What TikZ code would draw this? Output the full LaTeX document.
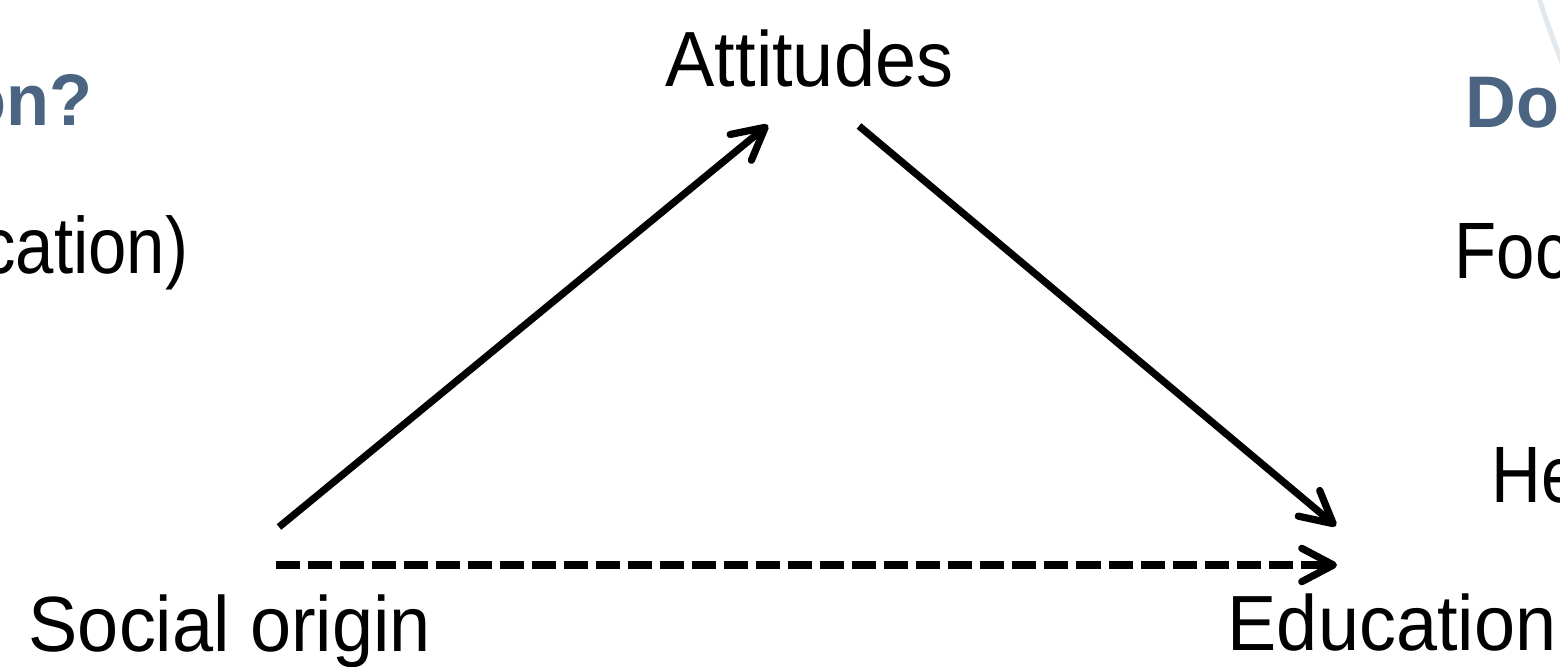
\documentclass[tikz,border=0pt]{standalone}
\usepackage{graphicx}
\usepackage{fontspec}
\setmainfont{Liberation Sans}
\usetikzlibrary{arrows.meta}
\definecolor{slateblue}{HTML}{4A6482}
\definecolor{paleline}{HTML}{E2E8EC}
\newcommand\vstretch[2]{\scalebox{1}[#1]{#2}}
\begin{document}
\begin{tikzpicture}[x=0.01cm,y=-0.01cm,
  lbl/.style={inner sep=0pt,font=\fontsize{21pt}{25pt}\selectfont},
  body/.style={inner sep=0pt,font=\fontsize{19.6pt}{24pt}\selectfont},
  ttl/.style={inner sep=0pt,font=\fontsize{20pt}{24pt}\selectfont\bfseries,text=slateblue},
  conn/.style={line width=0.072cm,-{Straight Barb[length=9pt,width=9.5pt,round]}},
  dashconn/.style={line width=0.072cm,dash pattern=on 0.24cm off 0.08cm,-{Straight Barb[length=9pt,width=9.5pt,round,sep=0pt]}}]
\useasboundingbox (0,0) rectangle (1560,667);
\clip (0,0) rectangle (1560,667);
% faint background arc
\draw[paleline,line width=0.05cm] (1538,-5) .. controls (1546,20) and (1553,40) .. (1565,70);
% texts cut by the frame
\node[ttl,anchor=base east] (t1) at (93,126) {\vstretch{1.04}{on?}};
\node[body,anchor=base east] (t2) at (189,274) {\vstretch{1.16}{cation)}};
\node[ttl,anchor=base west] (t3) at (1465,128) {\vstretch{1.04}{Do}};
\node[body,anchor=base west] (t4) at (1454,279) {\vstretch{1.16}{Foc}};
\node[body,anchor=base west] (t5) at (1491,502) {\vstretch{1.16}{He}};
% diagram nodes
\node[lbl,anchor=base west] (att) at (665,87) {\vstretch{1.06}{Attitudes}};
\node[lbl,anchor=base west] (soc) at (28,651) {\vstretch{1.06}{Social origin}};
\node[lbl,anchor=base west] (edu) at (1227,650) {\vstretch{1.06}{Education}};
% arrow end points
\coordinate (s1) at (279,527);
\coordinate (a1) at (768,125);
\coordinate (a2) at (859,126);
\coordinate (e1) at (1336,526);
\coordinate (s2) at (276,565);
\coordinate (e2) at (1337,565);
\draw[conn] (s1) -- (a1);
\draw[conn] (a2) -- (e1);
\draw[dashconn] (s2) -- (e2);
\end{tikzpicture}
\end{document}
